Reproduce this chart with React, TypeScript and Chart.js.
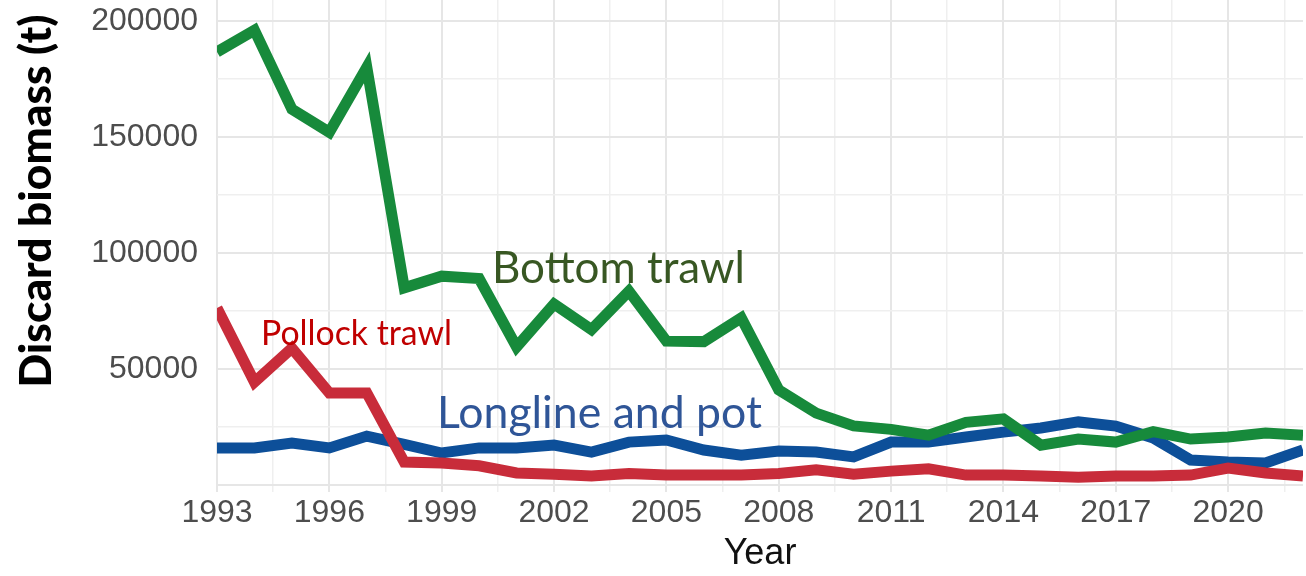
import React, { useEffect, useRef } from "react";
import { Chart, registerables } from "chart.js";

Chart.register(...registerables);

const years = [
  1993, 1994, 1995, 1996, 1997, 1998, 1999, 2000, 2001, 2002,
  2003, 2004, 2005, 2006, 2007, 2008, 2009, 2010, 2011, 2012,
  2013, 2014, 2015, 2016, 2017, 2018, 2019, 2020, 2021, 2022,
];

const bottomTrawl = [
  186600, 196000, 162000, 152000, 180000, 85000, 90000, 89000, 59500, 78000,
  67000, 83500, 62000, 61800, 72000, 41000, 31000, 25500, 24000, 21500,
  27000, 28500, 17200, 19800, 18500, 23000, 19800, 20700, 22400, 21500,
];

const longlinePot = [
  16000, 16000, 18100, 16000, 21100, 17500, 13800, 16000, 16000, 17200,
  14200, 18500, 19400, 15100, 12900, 14700, 14200, 12100, 18500, 18500,
  20700, 22800, 24600, 27200, 25400, 20300, 10800, 9900, 9500, 15100,
];

const pollockTrawl = [
  76300, 44400, 59000, 39700, 39700, 9900, 9500, 8300, 5200, 4700,
  3900, 5000, 4300, 4300, 4300, 5000, 6600, 4700, 6000, 7000,
  4300, 4300, 3900, 3400, 3900, 3900, 4300, 7300, 5200, 3900,
];

const xTickValues = [
  1993, 1994.5, 1996, 1997.5, 1999, 2000.5, 2002, 2003.5, 2005, 2006.5,
  2008, 2009.5, 2011, 2012.5, 2014, 2015.5, 2017, 2018.5, 2020, 2021.5,
];
const yTickValues = [0, 25000, 50000, 75000, 100000, 125000, 150000, 175000, 200000];

const seriesNames = ["Bottom trawl", "Pollock trawl", "Longline and pot"];

function fitFont(ctx: CanvasRenderingContext2D, text: string, weight: string, family: string, width: number) {
  ctx.font = `${weight} 100px ${family}`;
  const w = ctx.measureText(text).width;
  const size = (100 * width) / w;
  return `${weight} ${size.toFixed(2)}px ${family}`;
}

const labelPlugin = {
  id: "labelPlugin",
  afterDatasetsDraw(chart: any) {
    const ctx: CanvasRenderingContext2D = chart.ctx;
    ctx.save();
    ctx.textBaseline = "alphabetic";
    ctx.textAlign = "left";
    const items = [
      { text: seriesNames[0], x: 492, y: 283, w: 253, color: "#385723", weight: "normal" },
      { text: seriesNames[1], x: 261, y: 345, w: 191, color: "#c00000", weight: "normal" },
      { text: seriesNames[2], x: 437, y: 428, w: 325, color: "#2f5597", weight: "normal" },
    ];
    for (const it of items) {
      ctx.font = fitFont(ctx, it.text, it.weight, "Lato", it.w);
      ctx.fillStyle = it.color;
      ctx.fillText(it.text, it.x, it.y);
    }
    // y axis title
    const title = "Discard biomass (t)";
    ctx.font = fitFont(ctx, title, "900", "Lato", 373);
    ctx.fillStyle = "#000000";
    ctx.translate(51, 201);
    ctx.rotate(-Math.PI / 2);
    ctx.textAlign = "center";
    ctx.fillText(title, 0, 0);
    ctx.restore();
  },
};

export default function App() {
  const ref = useRef<HTMLCanvasElement | null>(null);

  useEffect(() => {
    if (!ref.current) return;
    const chart = new Chart(ref.current, {
      type: "line",
      data: {
        datasets: [
          {
            label: seriesNames[0],
            data: years.map((y, i) => ({ x: y, y: bottomTrawl[i] })),
            borderColor: "#178a3b",
            borderWidth: 11,
            pointRadius: 0,
            borderJoinStyle: "miter",
            tension: 0,
          },
          {
            label: seriesNames[1],
            data: years.map((y, i) => ({ x: y, y: pollockTrawl[i] })),
            borderColor: "#c82c3a",
            borderWidth: 11,
            pointRadius: 0,
            borderJoinStyle: "miter",
            tension: 0,
          },
          {
            label: seriesNames[2],
            data: years.map((y, i) => ({ x: y, y: longlinePot[i] })),
            borderColor: "#0d4f99",
            borderWidth: 11,
            pointRadius: 0,
            borderJoinStyle: "miter",
            tension: 0,
          },
        ],
      },
      options: {
        animation: false,
        responsive: false,
        layout: { padding: { left: 0, right: 3, top: 0, bottom: 0 } },
        plugins: {
          legend: { display: false },
          tooltip: { enabled: false },
        },
        scales: {
          x: {
            type: "linear",
            min: 1993,
            max: 2022,
            afterBuildTicks: (scale: any) => {
              scale.ticks = xTickValues.map((v) => ({ value: v }));
            },
            afterFit: (scale: any) => {
              scale.height = 84;
              scale.paddingLeft = 0;
              scale.paddingRight = 0;
            },
            border: { display: false },
            grid: {
              drawTicks: false,
              color: (c: any) => ((c.tick && (c.tick.value - 1993) % 3 === 0) ? "#e6e6e6" : "#efefef"),
              lineWidth: (c: any) => ((c.tick && (c.tick.value - 1993) % 3 === 0) ? 2 : 1.5),
            },
            ticks: {
              autoSkip: false,
              maxRotation: 0,
              padding: 2,
              color: "#4d4d4d",
              font: { family: "Liberation Sans", size: 32 },
              callback: (v: any) => ((Number(v) - 1993) % 3 === 0 ? String(v) : ""),
            },
            title: {
              display: true,
              text: "Year",
              color: "#111111",
              font: { family: "Liberation Sans", size: 36, lineHeight: 1.2 },
              padding: { top: 0, bottom: 0 },
            },
          },
          y: {
            type: "linear",
            min: -3000,
            max: 209000,
            afterBuildTicks: (scale: any) => {
              scale.ticks = yTickValues.map((v) => ({ value: v }));
            },
            afterFit: (scale: any) => {
              scale.width = 217;
              scale.paddingTop = 0;
              scale.paddingBottom = 0;
            },
            border: { display: false },
            grid: {
              drawTicks: false,
              color: (c: any) => ((c.tick && c.tick.value % 50000 === 0) ? "#e6e6e6" : "#efefef"),
              lineWidth: (c: any) => ((c.tick && c.tick.value % 50000 === 0) ? 2 : 1.5),
            },
            ticks: {
              autoSkip: false,
              padding: 19,
              color: "#4d4d4d",
              font: { family: "Liberation Sans", size: 32 },
              callback: (v: any) => (Number(v) > 0 && Number(v) % 50000 === 0 ? String(v) : ""),
            },
          },
        },
      },
      plugins: [labelPlugin],
    } as any);
    return () => chart.destroy();
  }, []);

  return (
    <div style={{ position: "absolute", left: 0, top: 0, width: 1306, height: 576, background: "#ffffff" }}>
      <canvas ref={ref} width={1306} height={576} style={{ display: "block" }} />
    </div>
  );
}
